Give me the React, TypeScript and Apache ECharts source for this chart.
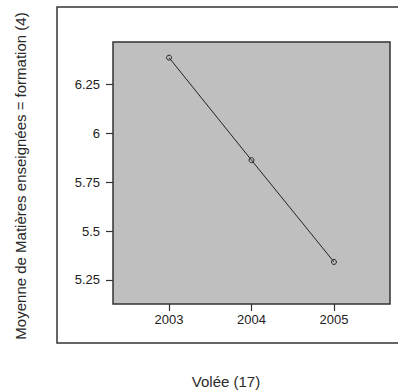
import React, { useEffect, useRef } from "react";
import * as echarts from "echarts";

const years = [2003, 2004, 2005];
const means = [6.386, 5.862, 5.342];
const yTicks = [5.25, 5.5, 5.75, 6, 6.25];
const xTitle = "Volée (17)";
const yTitle = "Moyenne de Matières enseignées = formation (4)";

const FONT = "'Liberation Sans', Arial, Helvetica, sans-serif";

export default function App() {
  const ref = useRef<HTMLDivElement>(null);
  useEffect(() => {
    const chart = echarts.init(ref.current!, null, { renderer: "svg" });
    chart.setOption({
      animation: false,
      backgroundColor: "#ffffff",
      grid: {
        left: 113,
        top: 42,
        width: 277,
        height: 262,
        show: true,
        backgroundColor: "#bfbfbf",
        borderColor: "#333333",
        borderWidth: 1.5,
      },
      xAxis: {
        type: "value",
        min: 2002.32,
        max: 2005.68,
        axisLine: { show: false },
        splitLine: { show: false },
        axisTick: {
          show: true,
          customValues: years,
          length: 7,
          lineStyle: { color: "#333333", width: 1.2 },
        },
        axisLabel: {
          customValues: years,
          formatter: (v: number) => String(Math.round(v)),
          margin: 9,
          color: "#222222",
          fontSize: 13,
          fontFamily: FONT,
        },
      },
      yAxis: {
        type: "value",
        min: 5.127,
        max: 6.466,
        axisLine: { show: false },
        splitLine: { show: false },
        axisTick: {
          show: true,
          customValues: yTicks,
          length: 7,
          lineStyle: { color: "#333333", width: 1.2 },
        },
        axisLabel: {
          customValues: yTicks,
          formatter: (v: number) => String(parseFloat(v.toFixed(2))),
          margin: 13,
          color: "#222222",
          fontSize: 13,
          fontFamily: FONT,
        },
      },
      series: [
        {
          type: "line",
          data: years.map((y, i) => [y, means[i]]),
          symbol: "circle",
          symbolSize: 5,
          itemStyle: { color: "transparent", borderColor: "#222222", borderWidth: 1 },
          lineStyle: { color: "#222222", width: 1 },
        },
      ],
      graphic: [
        {
          type: "polyline",
          shape: { points: [[402, 7], [57, 7], [57, 343], [402, 343]] },
          style: { stroke: "#333333", lineWidth: 1.5, fill: null },
          silent: true,
        },
        {
          type: "text",
          x: 226,
          y: 381,
          style: {
            text: xTitle,
            fontSize: 15,
            fontFamily: FONT,
            fill: "#2a2a2a",
            align: "center",
            verticalAlign: "middle",
          },
        },
        {
          type: "text",
          x: 20.5,
          y: 176,
          rotation: Math.PI / 2,
          style: {
            text: yTitle,
            fontSize: 15,
            fontFamily: FONT,
            fill: "#2a2a2a",
            align: "center",
            verticalAlign: "middle",
          },
        },
      ],
    });
    return () => chart.dispose();
  }, []);
  return (
    <div
      ref={ref}
      style={{ position: "fixed", left: 0, top: 0, width: 398, height: 390 }}
    />
  );
}
